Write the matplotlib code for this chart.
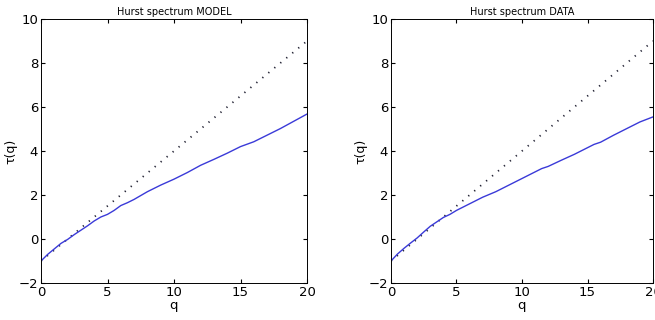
import numpy as np
import matplotlib.pyplot as plt

# q grid and tau(q)
q_model = [0, 0.5, 1, 1.5, 2, 2.5, 3, 3.5, 4, 4.5, 5, 5.5, 6, 6.5, 7, 8, 9, 10, 11, 12, 13, 14, 15, 16, 17, 18, 19, 20]
tau_model = [-1.0, -0.7, -0.45, -0.2, -0.02, 0.2, 0.4, 0.6, 0.82, 1.0, 1.12, 1.3, 1.52, 1.65, 1.8, 2.15, 2.45, 2.72, 3.02, 3.35, 3.62, 3.9, 4.2, 4.42, 4.72, 5.02, 5.35, 5.68]

q_data = [0, 0.5, 1, 1.5, 2, 2.5, 3, 3.5, 4, 4.5, 5, 6, 7, 8, 9, 10, 11, 11.5, 12, 13, 14, 15, 15.5, 16, 17, 18, 19, 20]
tau_data = [-1.0, -0.68, -0.42, -0.18, 0.05, 0.32, 0.58, 0.78, 0.98, 1.12, 1.3, 1.6, 1.9, 2.15, 2.45, 2.75, 3.05, 3.2, 3.3, 3.58, 3.85, 4.15, 4.3, 4.4, 4.72, 5.02, 5.32, 5.55]

# reference line tau = q*H - 1 with H = 0.5
q_ref = np.linspace(0, 20, 51)
tau_ref = 0.5 * q_ref - 1

titles = ['Hurst spectrum MODEL', 'Hurst spectrum DATA']
x_ticks = [0, 5, 10, 15, 20]
y_ticks = [-2, 0, 2, 4, 6, 8, 10]

fig = plt.figure(figsize=(6.55, 3.2), dpi=100)
ax1 = fig.add_axes([41 / 655, 37 / 320, 266 / 655, 264 / 320])
ax2 = fig.add_axes([391 / 655, 37 / 320, 262 / 655, 264 / 320])

for ax, q, tau, title in [(ax1, q_model, tau_model, titles[0]), (ax2, q_data, tau_data, titles[1])]:
    ax.plot(q_ref, tau_ref, color='#222233', linestyle=(0, (0.7, 3.6)), linewidth=1.3)
    ax.plot(q, tau, color='#3a3ad8', linewidth=1.0)
    ax.set_xlim(0, 20)
    ax.set_ylim(-2, 10)
    ax.set_xticks(x_ticks)
    ax.set_yticks(y_ticks)
    ax.tick_params(direction='in', top=True, right=True, labelsize=9.5, length=3, pad=2)
    ax.set_title(title, fontsize=7, pad=3)
    ax.set_xlabel('q', fontsize=9.5, labelpad=0)
    ax.set_ylabel('τ(q)', fontsize=9, labelpad=1)
    for s in ax.spines.values():
        s.set_linewidth(0.7)

fig.savefig('out.png', dpi=100)
